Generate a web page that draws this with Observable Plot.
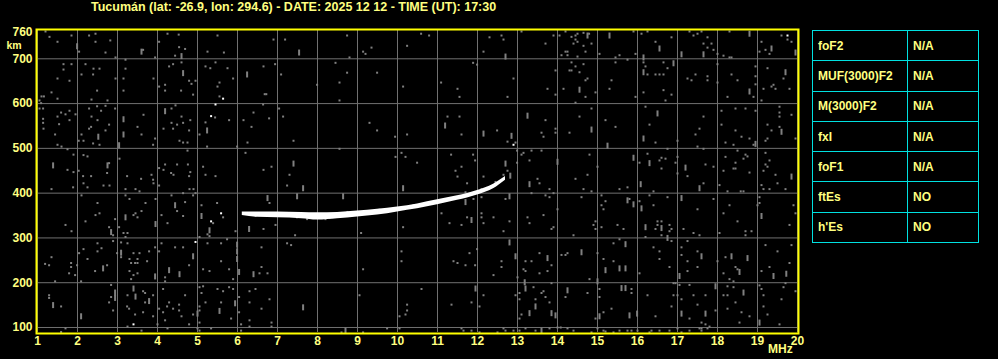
<!DOCTYPE html>
<html>
<head>
<meta charset="utf-8">
<script src="https://cdn.jsdelivr.net/npm/d3@7"></script>
<script src="https://cdn.jsdelivr.net/npm/@observablehq/plot@0.6"></script>
<style>
  html, body { margin: 0; padding: 0; background: #000; }
  #wrap { position: relative; width: 998px; height: 359px; overflow: hidden; background: #000; }
  #title { position: absolute; left: 91px; top: 0px; font: bold 12.5px "Liberation Sans", Arial, sans-serif; color: #ffff80; white-space: nowrap; line-height: 15px; }
  #tbl { position: absolute; left: 812px; top: 30px; border-collapse: collapse; font: bold 12px "Liberation Sans", Arial, sans-serif; color: #ffff80; }
  #tbl td { border: 1px solid #00e0e0; height: 30.3px; padding: 0 0 0 5px; box-sizing: border-box; }
  #tbl td.k { width: 95px; }
  #tbl td.v { width: 71px; }
  #chart { position: absolute; left: 0; top: 0; }
</style>
</head>
<body>
<div id="wrap">
  <div id="chart"></div>
  <div id="title"></div>
  <table id="tbl"></table>
</div>
<script>
const titleText = "Tucumán (lat: -26.9, lon: 294.6) - DATE: 2025 12 12 - TIME (UT): 17:30";
const freqTicks = [1,2,3,4,5,6,7,8,9,10,11,12,13,14,15,16,17,18,19,20];
const kmGrid = [100,200,300,400,500,600,700];
const kmLabels = [100,200,300,400,500,600,700,760];
const paramNames = ["foF2","MUF(3000)F2","M(3000)F2","fxI","foF1","ftEs","h'Es"];
const paramValues = ["N/A","N/A","N/A","N/A","N/A","NO","NO"];

// F-layer trace: frequency (MHz), lower and upper virtual height (km)
const traceFreq = [6.12,6.5,7.0,7.6,8.0,8.5,9.0,9.5,10.0,10.5,11.0,11.5,12.0,12.4,12.7];
const traceLow  = [350,346,345,343,340,343,347,351,358,365,374,384,396,410,429];
const traceHigh = [358,358,358,357,356,357,360,364,369,376,385,394,406,420,437];

// bright isolated echoes
const whiteSpecks = [[5.64,611],[5.45,598],[5.34,572],[12.90,508],[19.75,752],[5.59,355],[5.34,337],[4.95,291],[3.40,107]];

// gray background noise specks [MHz, km]
const noiseDots = [
[1.20,761],[1.30,749],[1.50,738],[1.85,752],[2.04,716],[2.29,752],[2.45,756],[2.45,738],[2.70,714],[2.82,741],[2.95,703],[3.20,698],[3.64,720],[3.94,703],[4.04,738],[4.25,756],[4.53,754],[4.54,726],[4.69,722],[4.44,707],[4.60,692],[5.25,716],[5.50,752],[5.66,714],[6.90,743],[7.19,743],
[1.65,688],[1.85,688],[1.65,676],[2.20,688],[2.40,678],[2.55,678],[2.10,665],[2.39,665],[1.50,656],[1.80,651],[2.95,656],[2.49,629],[3.20,678],[3.15,656],[3.15,629],[3.90,656],[4.29,683],[4.39,688],[4.79,651],[4.85,644],[4.95,651],[4.19,642],[4.04,638],[4.19,629],[4.59,629],[4.89,620],[5.20,683],[5.32,679],[5.45,692],[5.75,679],[5.55,647],[5.50,638],[5.89,656],[6.65,683],[6.94,688],[7.09,665],[6.68,621],[6.72,621],[1.35,625],[1.10,616],[1.16,616],[1.50,611],[1.05,607],[1.09,601],[2.35,609],[2.75,607],[2.70,595],[5.55,616],
[1.05,589],[1.14,589],[1.59,580],[1.70,576],[1.80,584],[1.95,576],[1.50,571],[1.14,566],[1.14,557],[1.15,544],[1.80,563],[1.54,554],[2.29,589],[2.49,594],[2.59,584],[2.94,589],[2.35,571],[2.50,563],[2.79,553],[2.29,544],[2.34,548],[2.70,540],[2.10,531],[2.55,508],[2.03,517],[2.15,517],[2.39,511],[1.44,531],[1.50,508],[1.60,504],[1.75,498],[3.65,575],[3.50,548],[3.60,531],[3.94,522],[3.89,508],[4.35,589],[4.45,596],[4.60,571],[4.82,563],[4.64,557],[4.35,557],[4.49,553],[4.15,544],[4.39,544],[4.79,540],[4.55,517],[4.64,513],[4.75,513],[5.44,569],[5.05,531],[5.79,563],[5.20,558],[5.24,504],[5.99,504],[6.15,563],[6.40,580],[6.35,548],[6.25,513],[6.79,567],[7.14,571],[7.04,589],[6.64,598],
[1.75,452],[1.90,447],[1.90,486],[2.15,485],[2.25,482],[2.03,450],[2.14,438],[2.34,438],[2.79,467],[2.74,445],[3.05,477],[3.24,438],[3.59,432],[3.85,441],[3.89,430],[4.04,456],[4.15,452],[4.34,445],[4.40,441],[4.19,464],[4.49,464],[4.76,464],[4.79,438],[4.82,447],[4.75,495],[5.14,459],[5.20,441],[5.45,438],[6.20,490],[6.65,452],[6.85,459],[7.30,441],
[8.74,752],[8.80,703],[9.14,716],[9.20,711],[9.35,725],[10.24,729],[10.59,756],[10.79,752],[12.30,748],[12.60,752],[12.65,743],[12.15,716],[13.10,761],[8.45,691],[8.74,669],[9.49,669],[8.55,647],[7.99,642],[8.55,607],[10.14,638],[11.09,647],[11.50,633],[11.55,615],[11.89,691],[11.99,687],[12.90,656],[12.75,615],[9.30,557],[9.49,540],[9.94,526],[10.24,531],[7.40,517],[8.55,499],[11.25,571],[11.55,571],[11.60,531],[12.49,540],[12.75,515],[12.95,513],[13.60,535],[13.65,526],[10.10,490],[9.95,481],[10.20,481],[10.49,468],[11.34,486],[11.60,459],[11.45,450],[11.50,437],[11.89,486],[11.94,473],[12.15,437],[12.75,450],[12.65,441],[12.99,468],[12.99,495],[13.15,490],[13.10,486],[13.30,473],[13.35,495],[13.60,495],[13.50,432],
[13.90,752],[14.05,752],[14.20,761],[14.35,749],[14.45,752],[14.50,756],[14.45,743],[14.50,738],[14.40,734],[14.65,729],[14.79,756],[14.65,758],[14.85,734],[14.20,716],[14.25,716],[14.10,708],[14.25,708],[14.50,705],[14.70,716],[13.70,734],[15.05,711],[15.55,708],[15.45,703],[15.75,698],[15.95,711],[15.90,761],[16.10,756],[16.25,761],[16.45,738],[16.85,748],[17.30,761],[17.40,752],[17.50,756],[17.60,761],[17.75,748],[17.65,734],[17.75,725],[17.85,734],[17.90,720],[18.00,711],[18.15,707],[18.30,703],[18.35,703],[18.30,761],[19.10,738],[19.20,720],[19.30,711],[19.60,752],[19.75,743],[19.85,738],[19.05,716],
[13.95,674],[13.75,633],[13.95,620],[14.15,633],[14.35,692],[14.30,674],[14.35,674],[14.45,683],[14.55,670],[14.65,688],[14.75,656],[14.70,652],[14.70,615],[14.95,625],[14.45,602],[15.35,652],[15.30,633],[15.45,692],[15.95,615],[16.15,692],[16.20,683],[16.25,665],[16.45,665],[16.55,665],[16.65,665],[16.65,692],[16.75,679],[16.65,630],[16.85,620],[16.70,607],[16.15,625],[17.25,656],[17.35,652],[17.45,665],[17.75,661],[17.75,652],[18.00,688],[18.00,647],[18.35,665],[18.50,652],[18.25,615],[18.95,683],[18.95,661],[18.95,643],[18.90,615],[19.10,607],[19.15,633],[19.40,642],[19.45,633],[19.35,638],[19.25,679],[19.65,656],[19.80,633],
[13.70,563],[13.95,544],[13.95,535],[14.30,535],[14.55,571],[14.85,589],[15.20,563],[15.45,548],[16.20,593],[16.30,553],[16.45,513],[16.75,499],[17.00,517],[17.65,571],[17.55,544],[17.45,531],[17.50,504],[17.65,499],[18.10,584],[18.45,589],[18.70,589],[18.95,584],[18.10,553],[18.45,540],[18.60,526],[18.20,513],[18.40,508],[18.80,522],[18.90,508],[19.55,593],[19.55,580],[19.55,571],[19.25,553],[19.35,540],[19.55,548],[19.85,575],[19.25,522],[19.20,517],[19.95,522],
[14.80,486],[14.45,432],[14.75,441],[15.00,459],[16.05,468],[16.25,488],[16.60,479],[16.70,477],[16.55,473],[16.60,455],[16.95,468],[17.00,481],[17.00,444],[17.25,438],[17.70,464],[17.90,459],[18.20,481],[18.45,468],[18.40,455],[18.45,455],[18.15,450],[18.50,495],[18.70,486],[18.65,477],[18.75,482],[18.80,446],[19.20,490],[19.30,473],[19.20,464],[19.25,459],[19.15,450],[19.45,441],
[1.35,409],[1.89,413],[2.15,422],[2.25,413],[2.65,417],[2.80,417],[3.20,409],[3.45,409],[3.55,404],[3.90,422],[4.04,417],[4.80,409],[4.90,409],[4.95,400],[2.10,395],[2.50,378],[3.20,395],[3.30,387],[3.70,378],[3.95,387],[4.35,395],[4.64,400],[4.89,395],[4.69,380],[4.49,360],[4.64,349],[5.10,373],[5.49,378],[5.64,346],[5.39,333],[5.25,308],[5.30,304],[5.05,302],[5.95,315],[6.65,320],[6.80,378],[6.95,329],[7.24,417],[7.24,288],[2.45,351],[2.55,355],[1.70,329],[1.85,315],[2.20,337],[2.79,324],[2.94,342],[2.89,306],[3.04,324],[3.15,311],[3.25,311],[3.40,351],[3.50,346],[3.45,355],[3.60,360],[4.10,351],[4.25,333],[3.20,302],[2.89,293],[3.09,290],[3.25,288],[2.50,288],[4.10,288],[4.44,279],[4.64,279],[5.25,288],[5.59,288],[5.74,297],[2.15,275],[2.50,270],[2.60,277],[2.04,266],[2.25,253],[1.35,257],[1.19,242],[1.29,239],[1.84,244],[1.84,235],[1.99,239],[1.79,221],[1.94,217],[2.09,203],[1.44,203],[2.44,226],[2.74,239],[2.99,266],[3.09,257],[3.30,253],[3.40,266],[3.55,266],[3.34,244],[3.44,244],[3.50,244],[3.50,253],[3.30,226],[3.40,217],[3.34,208],[3.50,221],[3.74,248],[3.79,270],[3.94,279],[4.04,270],[4.19,212],[4.19,203],[4.79,239],[5.14,230],[5.30,226],[5.59,248],[5.79,230],[5.89,208],[6.55,221],[6.75,221],[6.60,235],[6.60,279],[2.84,195],[3.25,172],[3.64,181],[3.69,177],[3.89,172],[3.69,156],[4.14,186],[4.69,172],[2.84,168],[2.79,156],[1.29,172],[1.29,166],[1.59,147],[2.89,138],[3.24,147],[3.29,142],[3.44,129],[3.64,134],[3.89,125],[4.29,156],[4.24,147],[4.54,151],[4.39,142],[4.54,138],[4.14,134],[4.19,116],[4.04,142],[4.60,125],[4.79,107],[4.89,129],[5.05,147],[5.05,138],[5.05,111],[5.14,192],[5.05,190],[5.10,177],[5.50,186],[5.64,181],[5.79,190],[5.89,186],[5.84,120],[5.20,156],[5.59,156],[6.04,168],[6.04,134],[6.30,181],[6.45,186],[6.30,156],[6.60,142],[6.30,116],[6.30,102],[6.80,163],[6.85,111],[6.85,102],[3.25,102],[4.00,107],[4.25,98],[3.60,93],[1.70,98],[1.59,90],[5.00,98],[5.05,93],[6.09,107],[6.09,93],[5.34,98],
[11.74,422],[13.55,422],[13.35,400],[12.70,387],[12.10,391],[11.90,387],[11.10,355],[11.30,333],[11.60,329],[11.74,346],[12.10,355],[12.10,346],[12.15,333],[12.40,346],[12.65,315],[12.80,337],[13.25,346],[13.30,333],[13.65,351],[7.49,346],[7.74,342],[8.20,342],[7.44,306],[7.34,284],[9.09,311],[10.14,324],[10.10,270],[10.10,248],[9.14,230],[11.40,248],[11.50,244],[11.70,239],[11.80,266],[11.94,239],[11.99,275],[12.60,248],[12.60,235],[12.40,217],[13.20,248],[13.35,248],[13.15,230],[13.20,226],[13.55,266],[13.55,221],[13.00,212],[13.40,190],[13.60,177],[13.65,181],[13.05,177],[12.95,172],[13.05,163],[13.45,163],[13.10,129],[13.05,120],[10.60,186],[12.15,172],[11.85,156],[12.05,147],[11.35,151],[10.24,151],[10.24,138],[10.20,129],[10.05,125],[9.05,172],[9.74,98],[10.05,98],[8.60,89],[9.14,89],[11.60,98],[11.65,93],[11.85,93],[12.05,89],[12.50,89],[12.65,98],[12.70,93],[12.90,93],[13.05,93],[13.20,98],[13.45,93],
[13.80,409],[14.65,409],[14.85,404],[15.55,409],[15.75,413],[16.40,404],[17.65,422],[18.05,418],[18.25,404],[18.58,404],[18.65,404],[19.10,418],[19.15,409],[19.30,409],[19.50,422],[19.70,409],[13.70,395],[13.80,391],[13.90,400],[14.00,364],[14.60,391],[15.10,395],[15.20,382],[15.10,373],[15.15,364],[15.80,387],[16.05,382],[16.30,395],[16.40,373],[16.75,391],[17.50,364],[17.90,387],[18.15,355],[18.30,373],[18.50,337],[19.05,391],[19.05,378],[19.00,373],[19.90,373],[19.95,355],[19.80,329],[13.85,320],[13.90,324],[14.40,306],[14.95,337],[14.90,329],[14.95,320],[15.10,324],[15.50,329],[15.65,320],[16.20,302],[16.50,337],[16.60,337],[16.50,329],[16.45,320],[16.80,329],[16.85,320],[16.80,315],[16.60,306],[16.85,293],[17.15,320],[17.40,311],[17.55,306],[18.05,311],[18.70,315],[18.70,306],[18.85,315],[14.25,266],[14.20,262],[14.10,262],[13.85,239],[13.75,226],[14.80,208],[15.00,266],[15.40,288],[15.55,297],[15.15,253],[15.40,248],[16.05,221],[16.40,279],[16.55,270],[16.55,253],[16.80,235],[17.25,293],[17.10,279],[17.10,262],[17.25,248],[17.50,270],[17.50,235],[17.25,226],[18.00,248],[18.20,257],[18.15,221],[18.45,235],[18.50,230],[18.30,208],[18.40,203],[19.10,226],[19.20,284],[19.50,270],[19.30,235],[19.80,244],[19.85,284],[13.85,199],[14.20,168],[14.75,177],[13.70,168],[13.80,156],[15.05,186],[15.05,168],[15.15,134],[15.35,142],[14.95,120],[15.85,186],[15.85,177],[16.25,172],[16.45,125],[16.85,147],[16.90,172],[17.00,172],[16.90,199],[16.95,199],[17.05,195],[17.30,195],[17.10,163],[17.40,172],[17.50,151],[17.70,172],[17.30,120],[17.60,111],[17.95,138],[18.15,172],[18.25,172],[18.25,192],[18.40,190],[18.25,142],[18.45,156],[18.60,134],[18.55,111],[18.80,125],[19.05,194],[19.10,186],[19.15,172],[19.15,147],[19.25,129],[19.60,163],[19.65,190],[19.70,199],[19.95,181],[19.55,107],[14.00,100],[14.08,100],[13.80,98],[14.25,98],[14.40,93],[14.85,89],[15.00,98],[15.15,93],[15.20,91],[15.40,89],[15.55,93],[15.75,93],[15.85,93],[16.00,93],[16.30,89],[16.35,93],[16.55,93],[16.80,93],[17.00,98],[17.10,89],[17.30,93],[17.55,98],[17.60,98],[17.70,107],[17.80,102],[17.60,93],[17.75,98],
[6.45,350],[6.9,349],[7.3,349],[7.65,352],[8.3,345],[8.75,358],[9.55,363],[10.4,373],[11.7,402],[12.1,409],[12.45,425]
];

// vertical streak noise [MHz, km]
const noiseDashes = [
[1.99,728],[3.60,716],[4.64,668],[6.24,665],[2.52,526],[3.15,565],[3.15,531],[3.04,507],[4.19,583],[1.39,462],[2.75,462],[5.24,540],[4.60,706],
[7.54,714],[12.70,705],[11.19,551],[12.15,533],[12.85,528],[13.25,573],[7.40,466],[12.70,466],[12.82,439],
[14.75,752],[15.30,752],[16.55,723],[16.15,703],[17.10,710],[17.65,710],[18.80,756],[19.35,723],[19.95,714],[14.55,631],[16.15,670],[16.90,690],[18.80,627],[19.70,670],[14.85,542],[15.25,506],[16.50,578],[16.15,522],[18.95,510],[19.60,537],[14.00,470],[15.90,479],[16.30,467],[17.20,457],[19.85,437],
[4.44,373],[5.10,349],[5.30,317],[6.29,320],[6.75,389],[2.84,313],[3.20,346],[3.95,331],[5.99,285],[5.99,270],[4.89,259],[2.64,232],[3.09,267],[3.94,214],[4.29,228],[4.55,219],[5.99,253],[6.04,224],[6.40,219],[2.94,178],[3.40,187],[3.45,169],[3.79,159],[2.94,166],[1.39,150],[2.09,125],[5.00,131],[5.55,137],[5.94,154],
[7.64,411],[7.49,393],[8.64,393],[10.14,411],[13.30,420],[12.80,393],[11.70,380],[11.85,340],[12.80,290],[12.95,259],[13.18,201],[13.20,187],[13.45,147],[13.30,132],[11.95,187],[7.64,145],[8.70,93],[13.60,93],
[17.55,411],[16.08,420],[15.75,384],[15.90,375],[16.10,366],[17.10,389],[19.10,349],[16.20,324],[16.60,322],[16.75,300],[14.60,268],[13.75,255],[15.70,286],[15.20,228],[15.55,232],[15.70,232],[17.05,215],[17.60,259],[18.35,259],[18.55,224],[18.75,255],[19.40,215],[19.72,220],[15.00,203],[14.25,183],[13.85,132],[13.95,127],[15.05,125],[15.60,188],[15.70,188],[15.80,127],[15.99,131],[17.10,131],[17.70,131],[17.95,192],[18.65,178],[19.05,111]
];

const TXT = "#ffff80", GRID = "#707070", NOISE = "#808080", FRAME = "#ffff00";
const FONT = "Liberation Sans, Arial, sans-serif";
const sq = { draw(ctx) { ctx.rect(-1, -1, 2, 2); } };
const dash = { draw(ctx) { ctx.rect(-1, -3, 2, 6); } };

const trace = traceFreq.map((f, i) => ({ f, lo: traceLow[i], hi: traceHigh[i] }));
const textOpts = { fill: TXT, fontSize: 12, fontWeight: "bold", fontFamily: FONT };

const chart = Plot.plot({
  width: 998,
  height: 359,
  marginTop: 30,
  marginBottom: 27,
  marginLeft: 37,
  marginRight: 201,
  x: { domain: [1, 20], axis: null },
  y: { domain: [88.8, 763.2], axis: null },
  style: { background: "#000", overflow: "visible" },
  marks: [
    Plot.ruleX(freqTicks, { x: d => d, stroke: GRID, strokeWidth: 1 }),
    Plot.ruleY(kmGrid, { y: d => d, stroke: GRID, strokeWidth: 1 }),
    Plot.dot(noiseDots, { x: d => d[0], y: d => d[1], symbol: sq, r: 1, fill: NOISE, stroke: null }),
    Plot.dot(noiseDashes, { x: d => d[0], y: d => d[1], symbol: dash, r: 1, fill: NOISE, stroke: null }),
    Plot.areaY(trace, { x: "f", y1: "lo", y2: "hi", fill: "#fff", curve: "monotone-x" }),
    Plot.dot(whiteSpecks, { x: d => d[0], y: d => d[1], symbol: sq, r: 1, fill: "#fff", stroke: null }),
    Plot.frame({ stroke: FRAME, strokeWidth: 2, insetLeft: -1, insetRight: -1, insetTop: -1, insetBottom: -1 }),
    Plot.text(freqTicks, { x: d => d, text: d => String(d), frameAnchor: "bottom", dy: 12, ...textOpts }),
    Plot.text(["MHz"], { x: () => 19.57, text: d => d, frameAnchor: "bottom", dy: 20, ...textOpts }),
    Plot.text(kmLabels, { y: d => d, text: d => String(d), frameAnchor: "left", dx: -5, textAnchor: "end", ...textOpts }),
    Plot.text(["km"], { text: d => d, frameAnchor: "top-left", dx: -31, dy: 11.5, textAnchor: "start", ...textOpts, fontSize: 10.5 })
  ]
});
document.getElementById("chart").appendChild(chart);
document.getElementById("title").textContent = titleText;

const tbl = document.getElementById("tbl");
paramNames.forEach((n, i) => {
  const tr = document.createElement("tr");
  const a = document.createElement("td"); a.className = "k"; a.textContent = n;
  const b = document.createElement("td"); b.className = "v"; b.textContent = paramValues[i];
  tr.appendChild(a); tr.appendChild(b); tbl.appendChild(tr);
});
</script>
</body>
</html>
